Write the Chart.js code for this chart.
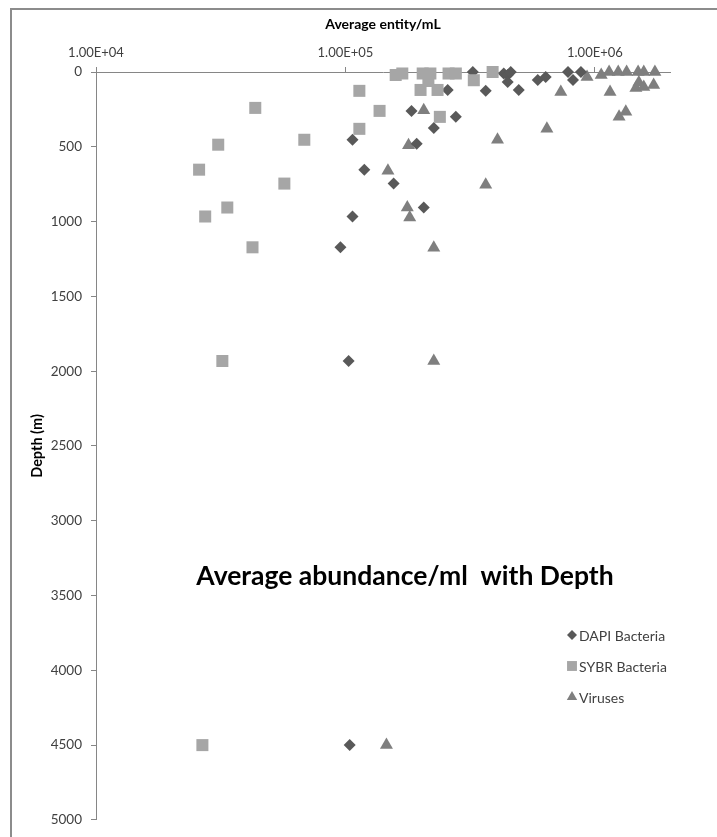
<!DOCTYPE html>
<html>
<head>
<meta charset="utf-8">
<title>Average abundance/ml with Depth</title>
<script src="https://cdn.jsdelivr.net/npm/chart.js@4.4.0/dist/chart.umd.min.js"></script>
<style>
  body { margin: 0; background: #fff; }
  #wrap { position: relative; width: 717px; height: 837px; overflow: hidden; }
  #frame { position: absolute; left: 10px; top: 8px; width: 800px; height: 900px; border: 2px solid #8c8c8c; }
  #depthChart { position: absolute; left: 0; top: 0; }
</style>
</head>
<body>
<div id="wrap">
  <div id="frame"></div>
  <canvas id="depthChart" width="717" height="837"></canvas>
</div>
<script>
// Popisky a osy
const chartTitle = 'Average abundance/ml  with Depth';
const xAxisTitle = 'Average entity/mL';
const yAxisTitle = 'Depth (m)';
const seriesNames = ['DAPI Bacteria', 'SYBR Bacteria', 'Viruses'];
const xTickValues = [1e4, 1e5, 1e6];
const xMin = 1e4, xMax = 2e6;
const yMin = 0, yMax = 5000, yStep = 500;

// DAPI bakterie: abundance (entity/mL) a hloubka (m)
const dapiAbundance = [324000, 257000, 184000, 277000, 226000, 106700, 193000, 119000, 156000, 206000,
    106700, 95500, 103000, 104000, 365000, 431000, 447000, 460000, 447000, 495000,
    590000, 635000, 780000, 817000, 879000];
const dapiDepth = [0, 120, 260, 300, 375, 453, 480, 653, 746, 906,
    966, 1172, 1932, 4500, 126, 10, 20, 0, 67, 120,
    53, 33, 0, 53, 0];

// SYBR bakterie
const sybrAbundance = [25900, 27400, 30900, 33600, 43500, 56900, 68400, 113700, 113700, 137000,
    159000, 169000, 204000, 219000, 259000, 277000, 200000, 234000, 239000, 327000,
    389000, 42400, 32100, 26700, 215000];
const sybrDepth = [653, 966, 486, 906, 240, 746, 453, 126, 380, 260,
    20, 10, 10, 10, 10, 10, 120, 120, 300, 55,
    0, 1172, 1932, 4500, 60];

// Viry
const virusAbundance = [206000, 179000, 148000, 177000, 181000, 226000, 226000, 146000, 407000, 365000,
    642000, 730000, 930000, 1060000, 1150000, 1140000, 1240000, 1340000, 1490000, 1570000,
    1740000, 1460000, 1570000, 1720000, 1250000, 1330000, 1500000];
const virusDepth = [255, 490, 660, 906, 973, 1175, 1932, 4500, 453, 753,
    380, 133, 33, 20, 133, 0, 0, 0, 0, 0,
    0, 107, 100, 87, 300, 266, 70];

function toPoints(xs, ys) {
    return xs.map((x, i) => ({ x: x, y: ys[i] }));
}

// Formát 1.00E+05 jako v Excelu
function sciLabel(v) {
    const e = Math.round(Math.log10(v));
    return (v / Math.pow(10, e)).toFixed(2) + 'E+' + String(e).padStart(2, '0');
}

Chart.defaults.font.family = 'Lato, "Open Sans", sans-serif';
const axisGray = '#868686';
const labelColor = '#404040';

// Nadpis uvnitř grafu a legenda vpravo dole
const overlayText = {
    id: 'overlayText',
    afterDraw(chart) {
        const ctx = chart.ctx;
        ctx.save();
        ctx.font = 'bold 26.5px Lato, sans-serif';
        ctx.fillStyle = '#000';
        ctx.textAlign = 'center';
        ctx.textBaseline = 'middle';
        ctx.fillText(chartTitle, 405, 576);

        ctx.font = '14px Lato, sans-serif';
        ctx.textAlign = 'left';
        chart.data.datasets.forEach(function(ds, i) {
            const y = 635 + i * 31;
            ctx.fillStyle = ds.backgroundColor;
            ctx.strokeStyle = ds.backgroundColor;
            Chart.helpers.drawPoint(ctx, { pointStyle: ds.pointStyle, radius: ds.legendRadius, borderWidth: 0, rotation: 0 }, 572, y);
            ctx.fillStyle = labelColor;
            ctx.fillText(ds.label, 579, y + 1);
        });
        ctx.restore();
    }
};

let ctx = document.getElementById('depthChart').getContext('2d');
let depthChart = new Chart(ctx, {
    type: 'scatter',
    data: {
        datasets: [{
            label: seriesNames[0],
            data: toPoints(dapiAbundance, dapiDepth),
            pointStyle: 'rectRot',
            pointRadius: 6,
            legendRadius: 5,
            backgroundColor: '#595959',
            borderColor: '#595959',
            borderWidth: 0,
            clip: false,
            order: 2
        }, {
            label: seriesNames[1],
            data: toPoints(sybrAbundance, sybrDepth),
            pointStyle: 'rect',
            pointRadius: 8.5,
            legendRadius: 7,
            backgroundColor: '#a6a6a6',
            borderColor: '#a0a0a0',
            borderWidth: 0,
            clip: false,
            order: 1
        }, {
            label: seriesNames[2],
            data: toPoints(virusAbundance, virusDepth),
            pointStyle: 'triangle',
            pointRadius: 7.5,
            legendRadius: 6,
            backgroundColor: '#7f7f7f',
            borderColor: '#7f7f7f',
            borderWidth: 0,
            clip: false,
            order: 3
        }]
    },
    options: {
        responsive: false,
        animation: false,
        events: [],
        layout: { padding: { left: 0, top: 0, right: 47, bottom: 14 } },
        plugins: {
            legend: { display: false },
            tooltip: { enabled: false }
        },
        scales: {
            x: {
                type: 'logarithmic',
                position: 'top',
                min: xMin,
                max: xMax,
                afterBuildTicks: function(scale) {
                    scale.ticks = xTickValues.map(v => ({ value: v }));
                },
                afterFit: function(scale) { scale.height = 72; },
                ticks: {
                    callback: v => sciLabel(v),
                    color: labelColor,
                    font: { size: 13 },
                    padding: 6,
                    maxRotation: 0,
                    autoSkip: false
                },
                grid: { drawOnChartArea: false, drawTicks: true, tickLength: 5, color: axisGray },
                border: { color: axisGray },
                title: {
                    display: true,
                    text: xAxisTitle,
                    color: '#000',
                    font: { size: 14, weight: 'bold' },
                    padding: { top: 16, bottom: 0 }
                }
            },
            y: {
                type: 'linear',
                reverse: true,
                min: yMin,
                max: yMax,
                afterFit: function(scale) { scale.width = 96; },
                ticks: {
                    stepSize: yStep,
                    callback: v => String(v),
                    color: labelColor,
                    font: { size: 13.5 },
                    padding: 9
                },
                grid: { drawOnChartArea: false, drawTicks: true, tickLength: 5, color: axisGray },
                border: { color: axisGray },
                title: {
                    display: true,
                    text: yAxisTitle,
                    color: '#000',
                    font: { size: 14.5, weight: 'bold' },
                    padding: { top: 29, bottom: 0 }
                }
            }
        }
    },
    plugins: [overlayText]
});
</script>
</body>
</html>
